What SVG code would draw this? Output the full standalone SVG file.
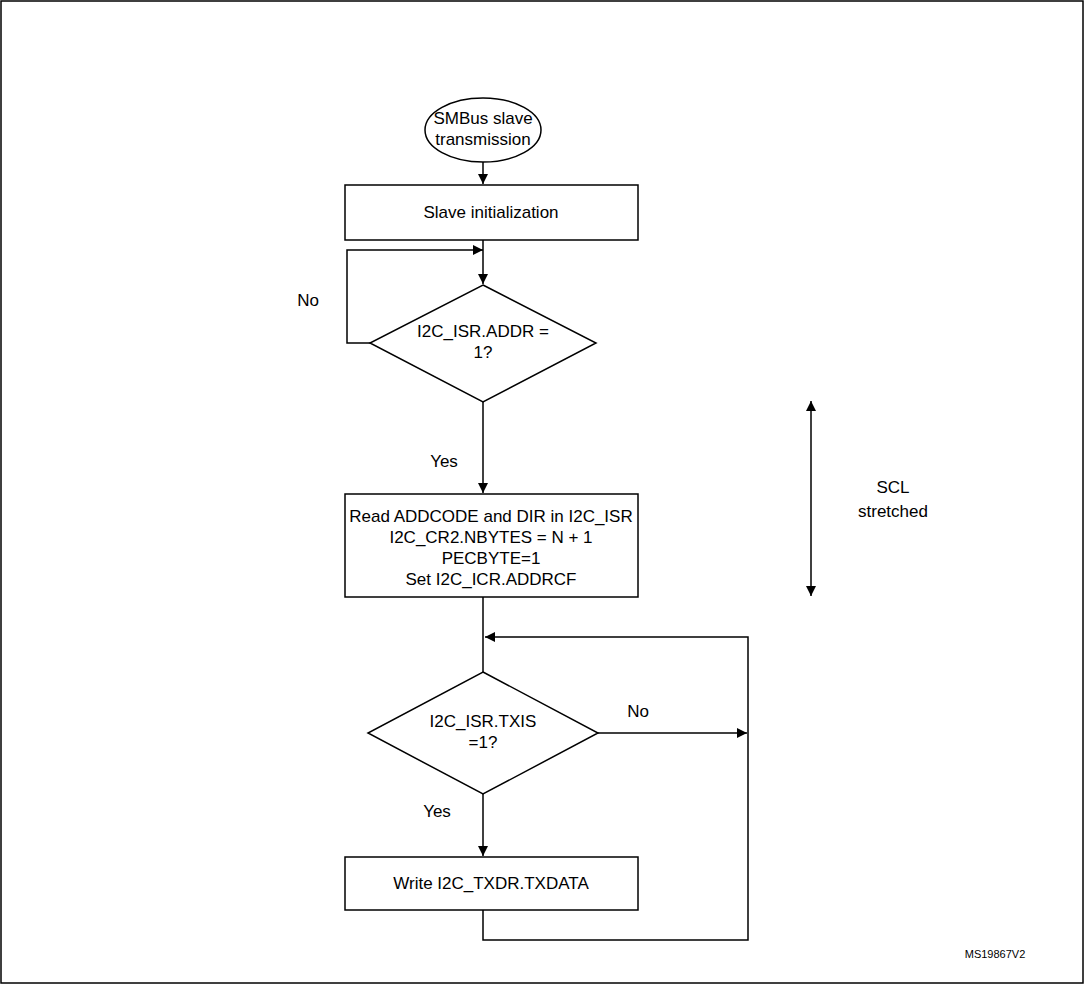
<svg xmlns="http://www.w3.org/2000/svg" width="1085" height="985" viewBox="0 0 1085 985">
<defs>
<marker id="ah" viewBox="0 0 10 10" refX="10" refY="5" markerWidth="10" markerHeight="10" markerUnits="userSpaceOnUse" orient="auto-start-reverse"><path d="M0,0 L10,5 L0,10 z" fill="#000"/></marker>
<style>
.s{fill:#fff;stroke:#000;stroke-width:1.5}
.l{fill:none;stroke:#000;stroke-width:1.5}
text{font-family:"Liberation Sans",Arial,sans-serif;font-size:17px;fill:#000;text-anchor:middle}
</style>
</defs>
<rect x="1" y="1" width="1082" height="982" fill="#fff" stroke="#000" stroke-width="1.5"/>
<g id="start"><ellipse class="s" cx="483" cy="130" rx="58" ry="32"/><text x="483" y="124">SMBus slave</text><text x="483" y="145">transmission</text></g>
<g id="init"><rect class="s" x="345" y="185" width="293" height="55"/><text x="491" y="218">Slave initialization</text></g>
<g id="addr"><polygon class="s" points="483,285 596,343 483,402 370,343"/><text x="483" y="337">I2C_ISR.ADDR =</text><text x="483" y="358">1?</text></g>
<g id="read"><rect class="s" x="345" y="494" width="293" height="103"/><text x="491" y="522">Read ADDCODE and DIR in I2C_ISR</text><text x="491" y="543">I2C_CR2.NBYTES = N + 1</text><text x="491" y="564">PECBYTE=1</text><text x="491" y="585">Set I2C_ICR.ADDRCF</text></g>
<g id="txis"><polygon class="s" points="483,672 598,733 483,794 368,733"/><text x="483" y="727">I2C_ISR.TXIS</text><text x="483" y="748">=1?</text></g>
<g id="write"><rect class="s" x="345" y="857" width="293" height="53"/><text x="491" y="889">Write I2C_TXDR.TXDATA</text></g>
<g id="scl"><text x="893" y="493">SCL</text><text x="893" y="517">stretched</text></g>
<text x="995" y="958" style="font-size:11px">MS19867V2</text>
<g id="connectors">
<line class="l" x1="483" y1="162" x2="483" y2="184" marker-end="url(#ah)"/>
<line class="l" x1="483" y1="240" x2="483" y2="284" marker-end="url(#ah)"/>
<polyline class="l" points="370,343 347,343 347,250 483,250" marker-end="url(#ah)"/>
<line class="l" x1="483" y1="402" x2="483" y2="493" marker-end="url(#ah)"/>
<line class="l" x1="483" y1="597" x2="483" y2="672"/>
<polyline class="l" points="748,733 748,637 485,637" marker-end="url(#ah)"/>
<line class="l" x1="598" y1="733" x2="747" y2="733" marker-end="url(#ah)"/>
<line class="l" x1="483" y1="794" x2="483" y2="856" marker-end="url(#ah)"/>
<polyline class="l" points="483,910 483,940 748,940 748,733"/>
<line class="l" x1="811" y1="401" x2="811" y2="596" marker-start="url(#ah)" marker-end="url(#ah)"/>
<text x="308" y="306">No</text><text x="444" y="467">Yes</text>
<text x="638" y="717">No</text><text x="437" y="817">Yes</text>
</g>
</svg>
